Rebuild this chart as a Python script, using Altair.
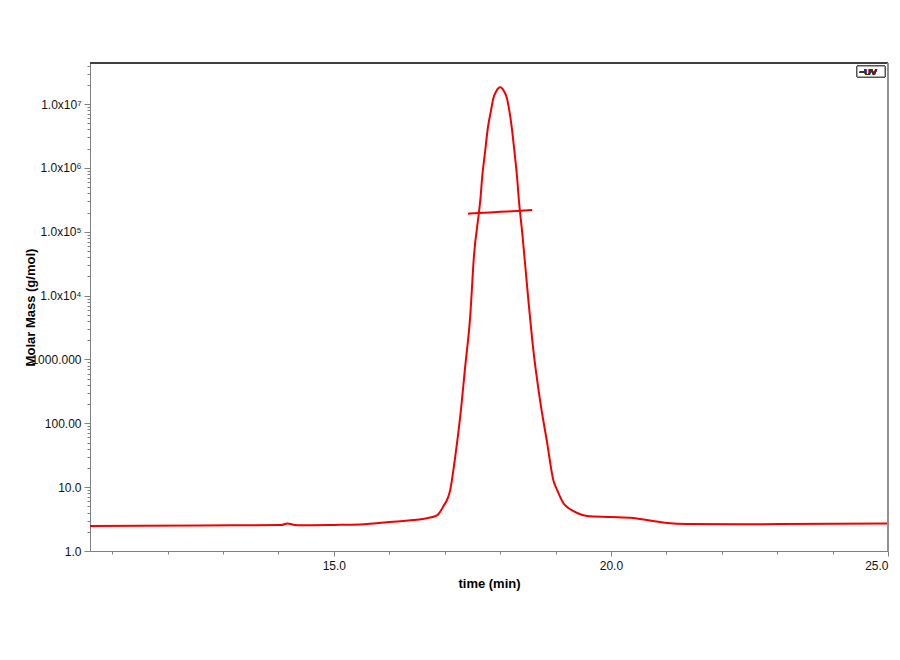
import altair as alt
import pandas as pd

# UV trace (plotted on molar mass axis)
uv_time = [10.60, 12.59, 14.05, 14.16, 14.30, 14.39, 15.0, 15.47, 16.07, 16.68, 16.86,
           16.97, 17.10, 17.19, 17.28, 17.37, 17.46, 17.53, 17.62, 17.652, 17.670, 17.730,
           17.779, 17.833, 17.880, 17.929, 18.001, 18.073, 18.122, 18.169, 18.212, 18.259,
           18.313, 18.331, 18.40, 18.51,
           18.60, 18.72, 18.85, 18.96, 19.03, 19.14, 19.21, 19.39, 19.57, 19.99, 20.40,
           20.76, 21.02, 21.38, 22.33, 23.05, 25.0]
uv_mass = [2.47, 2.51, 2.55, 2.70, 2.55, 2.53, 2.56, 2.60, 2.88, 3.26, 3.60,
           4.9, 9.0, 29.7, 126, 766, 4650, 4.36e4, 2.06e5, 3.80e5, 6.14e5, 1.81e6,
           4.22e6, 7.69e6, 1.25e7, 1.58e7, 1.83e7, 1.58e7, 1.25e7, 7.69e6, 4.22e6, 1.81e6,
           6.14e5, 3.80e5, 9.6e4, 8600,
           1413, 233, 49, 13.0, 9.0, 5.65, 4.9, 3.94, 3.54, 3.41, 3.29,
           2.95, 2.75, 2.65, 2.62, 2.65, 2.70]

# Molar mass segment
mm_time = [17.42, 17.70, 18.00, 18.30, 18.58]
mm_mass = [1.92e5, 1.98e5, 2.05e5, 2.12e5, 2.20e5]

x_major = [15, 20, 25]
x_minor = [11, 12, 13, 14, 16, 17, 18, 19, 21, 22, 23, 24]
y_major = [1, 10, 100, 1000, 1e4, 1e5, 1e6, 1e7]
y_minor = [k * 10 ** n for n in range(0, 8) for k in range(2, 10) if k * 10 ** n <= 4.4e7]

W, H = 798, 488
FONT = "Liberation Sans"
RED = "#f00000"

df = pd.concat([
    pd.DataFrame({"time": uv_time, "mass": uv_mass, "series": "UV"}),
    pd.DataFrame({"time": mm_time, "mass": mm_mass, "series": "MM"}),
])

xs = alt.Scale(domain=[10.6, 25.0], nice=False, zero=False)
ys = alt.Scale(type="log", domain=[1, 4.4e7], nice=False)

label_expr = ("datum.value >= 9e6 ? '1.0x10\u2077' : datum.value >= 9e5 ? '1.0x10\u2076' : "
              "datum.value >= 9e4 ? '1.0x10\u2075' : datum.value >= 9e3 ? '1.0x10\u2074' : "
              "datum.value >= 900 ? '1000.000' : datum.value >= 90 ? '100.00' : "
              "datum.value >= 9 ? '10.0' : '1.0'")

main = alt.Chart(df).mark_line(color=RED, strokeWidth=2, interpolate="monotone").encode(
    x=alt.X("time:Q", scale=xs, axis=alt.Axis(
        orient="bottom",
        values=x_major, format=".1f", tickSize=5, title="time (min)",
        titleFontWeight="bold", titleFontSize=13, titleFont=FONT,
        titleY=32, titleX=W / 2, titleBaseline="middle",
        labelFont=FONT, labelFontSize=12, labelColor="#111", labelPadding=4,
        domainColor="#808080", tickColor="#808080", grid=False)),
    y=alt.Y("mass:Q", scale=ys, axis=alt.Axis(
        orient="left",
        values=y_major, labelExpr=label_expr, tickSize=6, title="Molar Mass (g/mol)",
        titleFontWeight="bold", titleFontSize=13, titleFont=FONT,
        titleX=-60, titleY=H / 2, titleAngle=-90, titleAlign="center", titleBaseline="middle",
        labelFont=FONT, labelFontSize=12, labelColor="#111", labelPadding=3,
        domainColor="#808080", tickColor="#808080", grid=False)),
    detail="series:N",
)

minor = alt.Chart(df).mark_point(opacity=0).encode(
    x=alt.X("time:Q", scale=xs, axis=alt.Axis(
        orient="bottom",
        values=x_minor, labels=False, tickSize=3, title=None, domain=False,
        tickColor="#808080", grid=False)),
    y=alt.Y("mass:Q", scale=ys, axis=alt.Axis(
        orient="left",
        values=y_minor, labels=False, tickSize=3, title=None, domain=False,
        tickColor="#808080", grid=False)),
)

top_border = alt.Chart(df).mark_rule(color="#404040", strokeWidth=2).encode(
    x=alt.value(0), x2=alt.value(W), y=alt.value(0))
right_border = alt.Chart(df).mark_rule(color="#909090", strokeWidth=1).encode(
    x=alt.value(W), y=alt.value(0), y2=alt.value(H))

leg_box = alt.Chart(df).mark_rect(fill="white", stroke="#555", strokeWidth=1).encode(
    x=alt.value(W - 31), x2=alt.value(W - 3), y=alt.value(3), y2=alt.value(14))
leg_text = alt.Chart(df).mark_text(font=FONT, fontSize=9, color="#333", align="left",
                                   baseline="middle").encode(
    x=alt.value(W - 29), y=alt.value(9), text=alt.value("\u2212UV"))

chart = alt.layer(minor, main, top_border, right_border, leg_box, leg_text).resolve_axis(
    x="independent", y="independent"
).properties(
    width=W, height=H,
    autosize=alt.AutoSizeParams(type="none"),
    padding={"left": 82, "top": 55, "right": 4, "bottom": 60},
    background="white",
).configure_view(stroke=None)

chart.save("out.html", embed_options={"renderer": "svg", "actions": False})
